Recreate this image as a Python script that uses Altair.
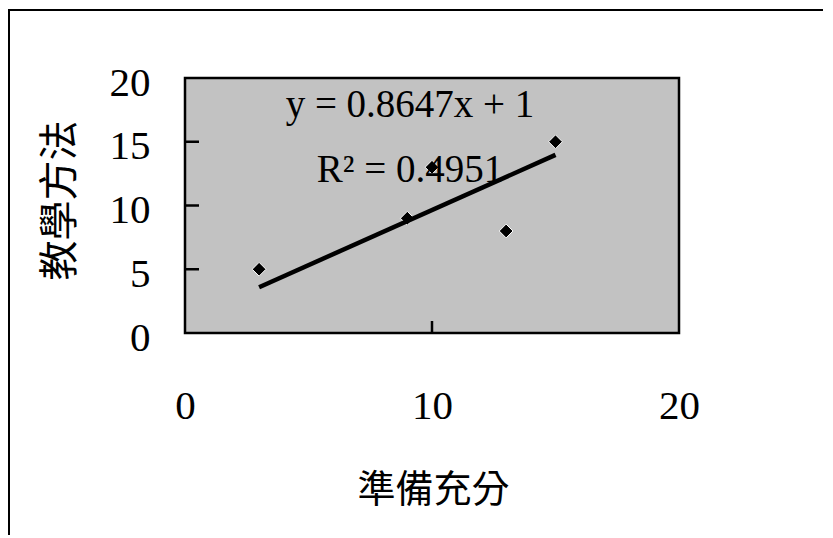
import altair as alt
import pandas as pd

# data
prep_x = [3, 9, 10, 13, 15]          # 準備充分
method_y = [5, 9, 13, 8, 15]         # 教學方法
trend_x = [3, 15]
trend_y = [3.59, 13.97]              # y = 0.8647x + 1
eq_text = ["y = 0.8647x + 1"]
r2_text = ["R² = 0.4951"]
x_ticks = [0, 10, 20]
y_ticks = [0, 5, 10, 15, 20]
inner_y_ticks = [5, 10, 15]
inner_x_ticks = [10]

W, H = 494, 255
SERIF = "Liberation Serif"
CJK = "Noto Sans CJK TC"

pts = pd.DataFrame({"x": prep_x, "y": method_y})
trend = pd.DataFrame({"x": trend_x, "y": trend_y})
one = pd.DataFrame({"a": [0]})

xscale = alt.Scale(domain=[0, 20], nice=False, zero=False)
yscale = alt.Scale(domain=[0, 20], nice=False, zero=False)

xaxis = alt.Axis(values=x_ticks, title="準備充分", grid=False, domain=False,
                 ticks=False, tickSize=0, labelFont=SERIF, labelFontSize=41,
                 labelColor="black", labelPadding=53, labelFlush=False,
                 titleFont=CJK, titleFontSize=38, titleFontWeight="normal",
                 titleColor="black", titleX=248, titleY=168,
                 titleBaseline="alphabetic", titleAlign="center")
yaxis = alt.Axis(values=y_ticks, title="教學方法", grid=False, domain=False,
                 ticks=False, tickSize=0, labelFont=SERIF, labelFontSize=41,
                 labelColor="black", labelPadding=35, labelFlush=False,
                 labelOffset=5, labelBaseline="middle",
                 titleFont=CJK, titleFontSize=40, titleFontWeight="normal",
                 titleColor="black", titleX=-125, titleY=122, titleAngle=-90,
                 titleBaseline="middle", titleAlign="center")

points = alt.Chart(pts).mark_point(shape="diamond", filled=True, color="black",
                                   size=190, opacity=1, stroke="white",
                                   strokeWidth=1).encode(
    x=alt.X("x:Q", scale=xscale, axis=xaxis),
    y=alt.Y("y:Q", scale=yscale, axis=yaxis),
)

line = alt.Chart(trend).mark_line(color="black", strokeWidth=4.5).encode(
    x=alt.X("x:Q", scale=xscale),
    y=alt.Y("y:Q", scale=yscale),
)

ytick_rules = alt.Chart(pd.DataFrame({"yt": inner_y_ticks})).mark_rule(
    color="black", strokeWidth=2.5, opacity=1).encode(
    y=alt.Y("yt:Q", scale=yscale),
    x=alt.value(1), x2=alt.value(14))

xtick_marks = alt.Chart(pd.DataFrame({"xt": inner_x_ticks})).mark_rule(
    color="black", strokeWidth=2.5).encode(
    x=alt.X("xt:Q", scale=xscale), y=alt.value(H), y2=alt.value(H - 12))

eq = alt.Chart(pd.DataFrame({"t": eq_text})).mark_text(
    font=SERIF, fontSize=39, align="center", baseline="alphabetic",
    color="black").encode(text="t:N", x=alt.value(225), y=alt.value(39))

r2 = alt.Chart(pd.DataFrame({"t": r2_text})).mark_text(
    font=SERIF, fontSize=39, align="center", baseline="alphabetic",
    color="black").encode(text="t:N", x=alt.value(225), y=alt.value(104))

top_border = alt.Chart(one).mark_rule(color="black", strokeWidth=2).encode(
    x=alt.value(-180), x2=alt.value(W + 170), y=alt.value(-68))
left_border = alt.Chart(one).mark_rule(color="black", strokeWidth=2).encode(
    x=alt.value(-176), y=alt.value(-68), y2=alt.value(H + 230))

chart = alt.layer(top_border, left_border, points, line, xtick_marks,
                  eq, r2, ytick_rules).properties(
    width=W, height=H,
    autosize=alt.AutoSizeParams(type="none"),
    padding={"left": 177, "top": 70, "right": 144, "bottom": 202},
    background="white",
).configure_view(
    fill="#c2c2c2", stroke="black", strokeWidth=2.5
)

chart.save("out.html", embed_options={"renderer": "svg", "actions": False})
